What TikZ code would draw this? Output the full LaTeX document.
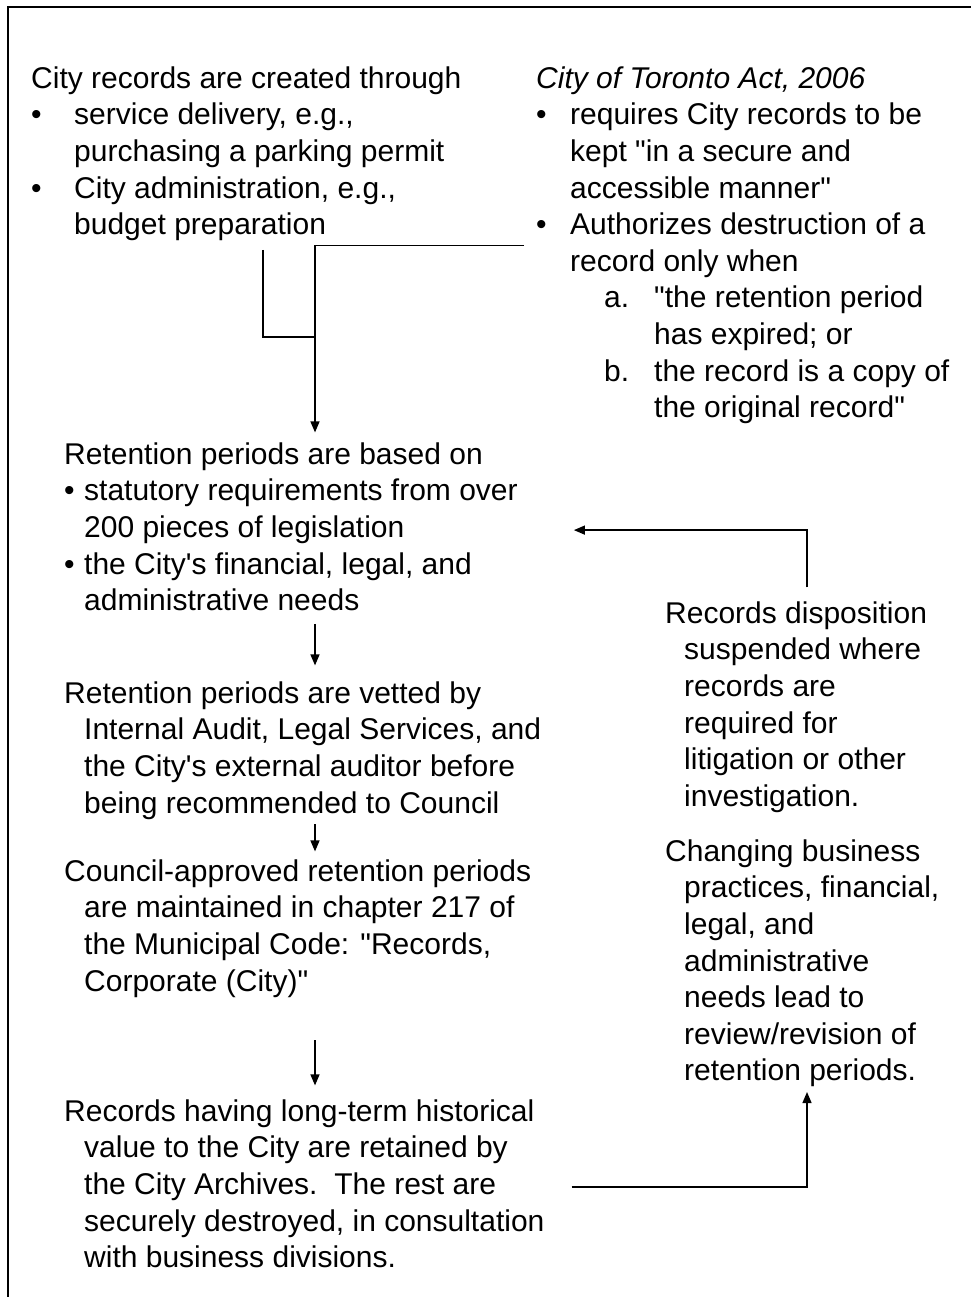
\documentclass[tikz,border=0pt]{standalone}
\usepackage{fontspec}
\newfontfamily\bodysans{Liberation Sans}
\usetikzlibrary{arrows.meta}
\newcommand{\bodyfont}{\bodysans\fontsize{30}{36.6}\selectfont}
\newcommand{\bul}[1]{\makebox[#1][l]{\textbullet}}
\newcommand{\hang}[1]{\hspace*{#1}}

\begin{document}
\begin{tikzpicture}[x=1pt,y=-1pt,>={Triangle[length=11pt,width=9pt]}]
\tikzstyle{txt}=[inner sep=0pt,anchor=north west,align=left,font=\bodyfont]
\tikzstyle{link}=[line width=1.4pt]
\tikzstyle{flow}=[link,->]
\useasboundingbox (0,0) rectangle (971,1297);
% frame
\draw[line width=1.8pt] (8,1297) -- (8,7) -- (971,7);
% top row
\node[txt] (create) at (31,62.4) {\strut City records are created through\\
  \bul{43pt}service delivery, e.g.,\\
  \hang{43pt}purchasing a parking permit\\
  \bul{43pt}City administration, e.g.,\\
  \hang{43pt}budget preparation\strut};
\node[txt] (act) at (536,62.4) {\strut\textit{City of Toronto Act, 2006}\\
  \bul{34pt}requires City records to be\\
  \hang{34pt}kept "in a secure and\\
  \hang{34pt}accessible manner"\\
  \bul{34pt}Authorizes destruction of a\\
  \hang{34pt}record only when\\
  \hang{68pt}\makebox[50pt][l]{a.}"the retention period\\
  \hang{118pt}has expired; or\\
  \hang{68pt}\makebox[50pt][l]{b.}the record is a copy of\\
  \hang{118pt}the original record"\strut};
% left column
\node[txt] (basis) at (64,438.4) {\strut Retention periods are based on\\
  \bul{20pt}statutory requirements from over\\
  \hang{20pt}200 pieces of legislation\\
  \bul{20pt}the City's financial, legal, and\\
  \hang{20pt}administrative needs\strut};
\node[txt] (vet) at (64,677.4) {\strut Retention periods are vetted by\\
  \hang{20pt}Internal Audit, Legal Services, and\\
  \hang{20pt}the City's external auditor before\\
  \hang{20pt}being recommended to Council\strut};
\node[txt] (code) at (64,855.4) {\strut Council-approved retention periods\\
  \hang{20pt}are maintained in chapter 217 of\\
  \hang{20pt}the Municipal Code: "Records,\\
  \hang{20pt}Corporate (City)"\strut};
\node[txt] (archive) at (64,1095.4) {\strut Records having long-term historical\\
  \hang{20pt}value to the City are retained by\\
  \hang{20pt}the City Archives.\ \ The rest are\\
  \hang{20pt}securely destroyed, in consultation\\
  \hang{20pt}with business divisions.\strut};
% right column
\node[txt] (hold) at (665,597.4) {\strut Records disposition\\
  \hang{19pt}suspended where\\
  \hang{19pt}records are\\
  \hang{19pt}required for\\
  \hang{19pt}litigation or other\\
  \hang{19pt}investigation.\strut};
\node[txt] (change) at (665,835.4) {\strut Changing business\\
  \hang{19pt}practices, financial,\\
  \hang{19pt}legal, and\\
  \hang{19pt}administrative\\
  \hang{19pt}needs lead to\\
  \hang{19pt}review/revision of\\
  \hang{19pt}retention periods.\strut};
\coordinate (merge) at (315,337);
\coordinate (lstem) at (263,0);
\coordinate (rstem) at (807,0);
% connectors
\draw[link,shorten <=4pt] (lstem |- create.south) |- (merge);
\draw[flow,shorten <=12pt,shorten >=6pt] (act.west) -| (merge |- basis.north);
\draw[flow,shorten <=2pt,shorten >=12pt] (basis.south -| merge) -- (vet.north -| merge);
\draw[flow,shorten >=4pt] (vet.south -| merge) -- (code.north -| merge);
\draw[flow,shorten <=38pt,shorten >=10pt] (code.south -| merge) -- (archive.north -| merge);
\draw[flow,shorten <=10pt,shorten >=56pt] (rstem |- hold.north) |- (basis.east);
\draw[flow,shorten <=27pt] (archive.east) -| (rstem |- change.south);
\end{tikzpicture}
\end{document}
